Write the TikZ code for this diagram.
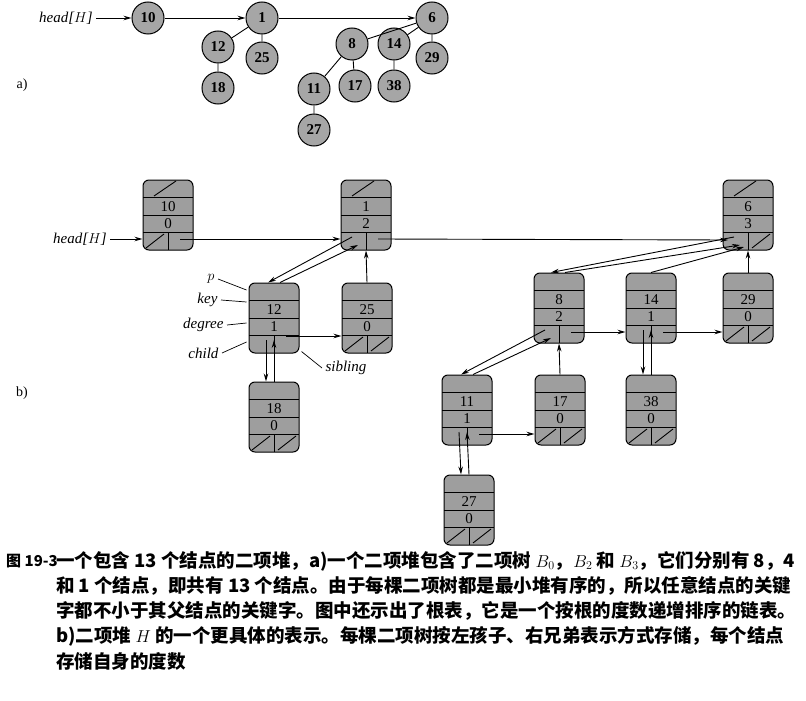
\documentclass[tikz,border=0pt]{standalone}
\usepackage{fontspec}
\setmainfont{Liberation Serif}
\newfontfamily\cjk{Noto Sans CJK SC}
\usetikzlibrary{arrows.meta,calc}
\tikzset{
 circ/.style={circle,draw,line width=1pt,fill=black!35,minimum size=32pt,inner sep=0pt,font=\fontsize{15}{15}\selectfont\bfseries},
 hb/.style={rectangle,draw,line width=1pt,fill=black!38,rounded corners=6pt,minimum width=50pt,minimum height=70pt,inner sep=0pt},
 arr/.style={line width=0.9pt,-{Stealth[length=8pt,width=4.5pt]}},
 lbl/.style={font=\fontsize{15}{15}\selectfont\itshape},
 num/.style={font=\fontsize{15}{15}\selectfont,inner sep=0pt},
 captxt/.style={anchor=west,inner sep=0pt,font=\fontsize{18.5}{18.5}\selectfont\cjk\bfseries}
}
\newcommand\hbx[8]{%
 \node[hb] (#1) at (#2,#3) {};
 \draw[line width=0.9pt] (#2-25,#3-17.5) -- (#2+25,#3-17.5) (#2-25,#3) -- (#2+25,#3) (#2-25,#3+17.5) -- (#2+25,#3+17.5) (#2,#3+17.5) -- (#2,#3+35);
 \node[num] at (#2,#3-8.5) {#4};
 \node[num] at (#2,#3+8.5) {#5};
 \ifnum#6=1 \draw[line width=0.9pt] (#2-14,#3-19) -- (#2+8,#3-34);\fi
 \ifnum#7=1 \draw[line width=0.9pt] (#2-22,#3+33) -- (#2-4,#3+19);\fi
 \ifnum#8=1 \draw[line width=0.9pt] (#2+4,#3+33) -- (#2+22,#3+19);\fi
}
\begin{document}
\begin{tikzpicture}[x=1pt,y=-1pt]
\useasboundingbox (0,0) rectangle (806,701);
% part a
\node[lbl] (hA) at (66,18) {head[$H$]};
\node[circ] (a10) at (148,18) {10};
\node[circ] (a1) at (262,18) {1};
\node[circ] (a6) at (432,18) {6};
\node[circ] (a12) at (218,47) {12};
\node[circ] (a25) at (262,58) {25};
\node[circ] (a18) at (218,88) {18};
\node[circ] (a8) at (352,44) {8};
\node[circ] (a14) at (394,44) {14};
\node[circ] (a29) at (432,58) {29};
\node[circ] (a11) at (314,89) {11};
\node[circ] (a17) at (355,86) {17};
\node[circ] (a38) at (394,86) {38};
\node[circ] (a27) at (314,130) {27};
\draw[arr] (hA) -- (a10);
\draw[arr] (a10) -- (a1);
\draw[arr] (a1) -- (a6);
\draw[line width=0.9pt] (a1) -- (a12) (a1) -- (a25) (a12) -- (a18)
 (a6) -- (a8) (a6) -- (a14) (a6) -- (a29) (a8) -- (a11) (a8) -- (a17) (a14) -- (a38) (a11) -- (a27);
\node[font=\fontsize{14}{14}\selectfont] (la) at (22,85) {a)};
% part b
\hbx{b10}{168}{215}{10}{0}{1}{1}{0}
\hbx{b1}{366}{215}{1}{2}{1}{0}{0}
\hbx{b6}{748}{215}{6}{3}{1}{0}{1}
\hbx{b12}{274}{318}{12}{1}{0}{0}{0}
\hbx{b25}{367}{318}{25}{0}{0}{1}{1}
\hbx{b18}{274}{417}{18}{0}{0}{1}{1}
\hbx{b8}{559}{308}{8}{2}{0}{0}{0}
\hbx{b14}{651}{308}{14}{1}{0}{0}{0}
\hbx{b29}{748}{308}{29}{0}{0}{1}{1}
\hbx{b11}{467}{410}{11}{1}{0}{0}{0}
\hbx{b17}{560}{410}{17}{0}{0}{1}{1}
\hbx{b38}{651}{410}{38}{0}{0}{1}{1}
\hbx{b27}{469}{510}{27}{0}{0}{1}{1}
\node[lbl] (hB) at (80,239) {head[$H$]};
\draw[arr] (hB.east) -- ($(b10.west)+(0,24)$);
% siblings
\draw[arr] ($(b10.center)+(12,24)$) -- ($(b1.west)+(0,24)$);
\draw[arr] ($(b1.center)+(12,24)$) -- ($(b6.center)+(-20,25)$);
\draw[arr] ($(b12.center)+(12,18)$) -- ($(b25.west)+(0,18)$);
\draw[arr] ($(b8.center)+(12,24)$) -- ($(b14.west)+(0,24)$);
\draw[arr] ($(b14.center)+(12,24)$) -- ($(b29.west)+(0,24)$);
\draw[arr] ($(b11.center)+(12,24)$) -- ($(b17.west)+(0,24)$);
% child / parent
\draw[arr] ($(b1.center)+(-14,22)$) -- ($(b12.north)+(-6,0)$);
\draw[arr] ($(b12.north)+(6,0)$) -- ($(b1.center)+(-8,30)$);
\draw[arr] (b25.north) -- (b1.south);
\draw[arr] ($(b12.center)+(-8,22)$) -- ($(b18.north)+(-8,0)$);
\draw[arr] ($(b18.north)+(0,0)$) -- ($(b12.center)+(0,22)$);
\draw[arr] ($(b6.center)+(-14,22)$) -- ($(b8.north)+(-8,0)$);
\draw[arr] ($(b8.north)+(6,0)$) -- ($(b6.center)+(-8,30)$);
\draw[arr] (b14.north) -- ($(b6.center)+(-4,32)$);
\draw[arr] (b29.north) -- (b6.south);
\draw[arr] ($(b8.center)+(-14,22)$) -- ($(b11.north)+(-6,0)$);
\draw[arr] ($(b11.north)+(6,0)$) -- ($(b8.center)+(-8,30)$);
\draw[arr] (b17.north) -- (b8.south);
\draw[arr] ($(b14.center)+(-8,22)$) -- ($(b38.north)+(-8,0)$);
\draw[arr] ($(b38.north)+(0,0)$) -- ($(b14.center)+(0,22)$);
\draw[arr] ($(b11.center)+(-8,22)$) -- ($(b27.north)+(-8,0)$);
\draw[arr] ($(b27.north)+(0,0)$) -- ($(b11.center)+(0,22)$);
% field labels
\node[lbl,anchor=east] (lp) at (218,279) {$p$};
\node[lbl,anchor=east] (lk) at (221,300) {key};
\node[lbl,anchor=east] (ld) at (227,325) {degree};
\node[lbl,anchor=east] (lc) at (222,353) {child};
\node[lbl,anchor=west] (ls) at (322,368) {sibling};
\draw[line width=0.7pt] (lp.east) -- ($(b12.west)+(-2,-28)$);
\draw[line width=0.7pt] (lk.east) -- ($(b12.west)+(-2,-16)$);
\draw[line width=0.7pt] (ld.east) -- ($(b12.west)+(-2,5)$);
\draw[line width=0.7pt] (lc.east) -- ($(b12.west)+(-2,24)$);
\draw[line width=0.7pt] (ls.west) -- ($(b12.south east)+(2,-2)$);
\node[font=\fontsize{14}{14}\selectfont] (lb) at (22,393) {b)};
% caption
\node[captxt,font=\fontsize{15}{15}\selectfont\cjk\bfseries] (c0) at (6,561) {图 19-3};
\node[captxt] (c1) at (56,561) {一个包含 13 个结点的二项堆，a)一个二项堆包含了二项树 $B_0$，$B_2$ 和 $B_3$，它们分别有 8，4};
\node[captxt] (c2) at (56,586) {和 1 个结点，即共有 13 个结点。由于每棵二项树都是最小堆有序的，所以任意结点的关键};
\node[captxt] (c3) at (56,611) {字都不小于其父结点的关键字。图中还示出了根表，它是一个按根的度数递增排序的链表。};
\node[captxt] (c4) at (56,636) {b)二项堆 $H$ 的一个更具体的表示。每棵二项树按左孩子、右兄弟表示方式存储，每个结点};
\node[captxt] (c5) at (56,661) {存储自身的度数};
\end{tikzpicture}
\end{document}
